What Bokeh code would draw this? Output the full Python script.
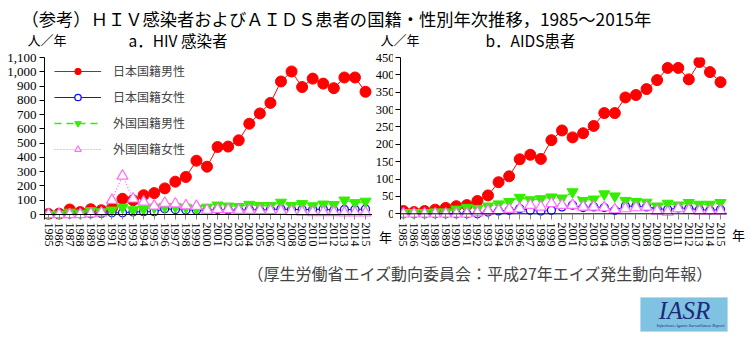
from bokeh.plotting import figure
from bokeh.models import (Range1d, FixedTicker, NumeralTickFormatter, Label, Span,
                          Legend, LegendItem, BoxAnnotation)
from bokeh.layouts import column, row
from bokeh.embed import file_html
from bokeh.resources import INLINE

# ---------------- data ----------------
years = list(range(1985, 2016))

hiv_jp_male = [4, 6, 35, 17, 37, 30, 45, 110, 100, 135, 150, 183, 230, 263, 377, 335,
               473, 476, 520, 636, 708, 782, 932, 1002, 893, 952, 917, 885, 960, 960, 860]
hiv_jp_female = [0, 0, 3, 5, 5, 8, 12, 12, 18, 20, 20, 40, 35, 32, 30, 30,
                 35, 32, 30, 35, 30, 35, 38, 35, 35, 35, 38, 30, 35, 35, 38]
hiv_for_male = [0, 2, 15, 8, 25, 18, 30, 50, 32, 38, 50, 55, 55, 50, 40, 50,
                65, 58, 55, 70, 62, 62, 85, 62, 75, 60, 72, 68, 100, 82, 92]
hiv_for_female = [0, 0, 0, 0, 5, 12, 100, 270, 110, 88, 60, 80, 75, 62, 58, 30,
                  35, 35, 30, 30, 28, 28, 25, 22, 18, 15, 15, 15, 12, 12, 12]

aids_jp_male = [8, 5, 8, 12, 17, 22, 25, 37, 53, 91, 108, 157, 170, 158, 212, 240,
                220, 232, 253, 290, 290, 335, 342, 359, 385, 420, 420, 387, 437, 408, 379]
aids_jp_female = [0, 0, 0, 0, 0, 0, 0, 0, 5, 8, 10, 15, 10, 8, 10, 20,
                  25, 18, 20, 18, 10, 22, 22, 20, 15, 12, 17, 15, 12, 10, 12]
aids_for_male = [3, 3, 3, 5, 5, 13, 18, 15, 22, 28, 35, 47, 40, 43, 48, 45,
                 63, 38, 42, 57, 51, 38, 35, 33, 22, 30, 25, 32, 27, 27, 32]
aids_for_female = [0, 0, 0, 0, 0, 0, 0, 3, 8, 10, 13, 15, 25, 20, 30, 25,
                   25, 20, 20, 18, 12, 15, 18, 20, 8, 5, 15, 10, 8, 8, 8]

series_names = ["日本国籍男性", "日本国籍女性", "外国国籍男性", "外国国籍女性"]
hiv_ticks = list(range(0, 1101, 100))
aids_ticks = list(range(0, 451, 50))

main_title = "（参考）ＨＩＶ感染者およびＡＩＤＳ患者の国籍・性別年次推移，1985～2015年"
sub_a = "a．HIV 感染者"
sub_b = "b．AIDS患者"
unit_label = "人／年"
year_unit = "年"
source_text = "（厚生労働省エイズ動向委員会：平成27年エイズ発生動向年報）"

JP = "Noto Sans CJK JP"
SERIF = "Liberation Serif"

RED = "#ff0000"
BLUE = "#1010ff"
GREEN = "#33ee00"
PINK = "#ff6cff"

TOP_H = 50        # height of the title strip
PANEL_H = 210     # height of the panel row
FRAME_TOP = 57    # page y of frame top
FRAME_BOTTOM = 219

HIV_YR = (-35, 1100)
AIDS_YR = (-16.4, 450)
HIV_XR = (1984.62, 2015.66)
AIDS_XR = (1984.72, 2015.66)


def base_fig(width, xr, yr, bl, br):
    p = figure(width=width, height=PANEL_H, x_range=Range1d(*xr), y_range=Range1d(*yr),
               min_border_left=bl, min_border_right=br,
               min_border_top=FRAME_TOP - TOP_H,
               min_border_bottom=TOP_H + PANEL_H - FRAME_BOTTOM,
               toolbar_location=None, output_backend="svg")
    p.outline_line_color = None
    p.grid.visible = False
    p.background_fill_color = "white"
    p.border_fill_color = "white"
    return p


def style_yaxis(ya, ticks, show_labels=True):
    ya.ticker = FixedTicker(ticks=ticks)
    ya.formatter = NumeralTickFormatter(format="0,0")
    ya.major_label_text_font = SERIF
    ya.major_label_text_font_size = "13px"
    ya.major_label_text_color = "black"
    ya.axis_line_color = "black"
    ya.major_tick_line_color = "black"
    ya.major_tick_in = 0
    ya.major_tick_out = 5
    ya.minor_tick_line_color = None
    ya.major_label_standoff = 3
    if not show_labels:
        ya.major_label_overrides = {t: "" for t in ticks}
        ya.major_label_standoff = 0


def style_unit_axis(xa, label, standoff, orientation="horizontal"):
    xa.ticker = FixedTicker(ticks=[0.5])
    xa.major_label_overrides = {0.5: label}
    xa.major_label_orientation = orientation
    xa.major_label_text_font = JP
    xa.major_label_text_font_size = "13px"
    xa.major_label_text_color = "black"
    xa.axis_line_color = None
    xa.major_tick_line_color = None
    xa.minor_tick_line_color = None
    xa.major_tick_in = 0
    xa.major_tick_out = 0
    xa.major_label_standoff = standoff


def make_panel(width, xr, yr, bl, br, ticks, show_ylabels=True):
    p = base_fig(width, xr, yr, bl, br)
    xa = p.xaxis[0]
    xa.ticker = FixedTicker(ticks=years)
    xa.major_label_orientation = "vertical"
    xa.major_label_text_font = SERIF
    xa.major_label_text_font_size = "12px"
    xa.major_label_text_color = "black"
    xa.axis_line_color = None
    xa.major_tick_in = 5
    xa.major_tick_out = 0
    xa.major_tick_line_color = "#888888"
    xa.minor_tick_line_color = None
    xa.major_label_standoff = 3
    style_yaxis(p.yaxis[0], ticks, show_ylabels)
    p.add_layout(Span(location=0, dimension="width", line_color="black", line_width=1))
    return p


def add_series(p, jm, jf, fm, ff):
    l1 = p.line(years, jm, line_color=RED, line_width=1)
    s1 = p.scatter(years, jm, marker="circle", size=11, fill_color=RED, line_color=RED)
    l2 = p.line(years, jf, line_color=BLUE, line_width=1)
    s2 = p.scatter(years, jf, marker="circle", size=8, fill_color="white", line_color=BLUE, line_width=1.3)
    l3 = p.line(years, fm, line_color=GREEN, line_width=1.3, line_dash="7 5")
    s3 = p.scatter(years, fm, marker="inverted_triangle", size=11, fill_color=GREEN, line_color=GREEN)
    l4 = p.line(years, ff, line_color=PINK, line_width=1.2, line_dash="1 2")
    s4 = p.scatter(years, ff, marker="triangle", size=11, fill_color="white", line_color=PINK, line_width=1.2)
    return [(l1, s1), (l2, s2), (l3, s3), (l4, s4)]


def blank_fig(width, height):
    f = figure(width=width, height=height, x_range=Range1d(0, width), y_range=Range1d(0, height),
               min_border=0, toolbar_location=None, output_backend="svg",
               x_axis_location=None, y_axis_location=None)
    f.outline_line_color = None
    f.grid.visible = False
    return f


# ---------------- title strip (title, subtitles, units) ----------------
tfig = blank_fig(749, TOP_H)


def top_label(px, py, text, size):
    tfig.add_layout(Label(x=px, y=TOP_H - py, text=text, text_font=JP,
                          text_font_size=size, text_baseline="middle", text_color="black"))


top_label(21, 18, main_title, "17.3px")
top_label(27, 39, unit_label, "13px")
top_label(128, 39.5, sub_a, "15.5px")
top_label(380, 39, unit_label, "13px")
top_label(485, 39.5, sub_b, "15.5px")

# ---------------- left panel (HIV) ----------------
left = make_panel(372, HIV_XR, HIV_YR, 44, 0, hiv_ticks)
pairs = add_series(left, hiv_jp_male, hiv_jp_female, hiv_for_male, hiv_for_female)

items = [LegendItem(label=n, renderers=list(pr)) for n, pr in zip(series_names, pairs)]
legend = Legend(items=items, location=(10, 62), orientation="vertical",
                label_text_font=JP, label_text_font_size="12px",
                glyph_width=47, glyph_height=16, label_height=16, spacing=9,
                padding=4, margin=0, label_standoff=12,
                background_fill_alpha=0, border_line_color=None)
left.add_layout(legend)

# ---------------- middle strip: AIDS tick labels + "年" ending the left year axis ----------------
mid = base_fig(21, (0, 1), AIDS_YR, 15, 0)
style_yaxis(mid.yaxis[0], aids_ticks)
mid.yaxis[0].major_label_text_font_size = "12.5px"
mid.yaxis[0].major_tick_out = 0
mid.yaxis[0].major_label_standoff = -4
mid.yaxis[0].axis_line_color = None
# a tiny positive angle makes the label right-aligned at its tick
style_unit_axis(mid.xaxis[0], year_unit, 17, orientation=0.0001)

# ---------------- right panel (AIDS) ----------------
right = make_panel(334, AIDS_XR, AIDS_YR, 7, 0, aids_ticks, show_ylabels=False)
add_series(right, aids_jp_male, aids_jp_female, aids_for_male, aids_for_female)

# ---------------- end strip: "年" ending the right year axis ----------------
yfig = base_fig(22, (0, 1), AIDS_YR, 0, 0)
yfig.yaxis.visible = False
style_unit_axis(yfig.xaxis[0], year_unit, 5)

# ---------------- bottom strip ----------------
BH = 83
bfig = blank_fig(749, BH)
bfig.add_layout(Label(x=247, y=BH - 12, text=source_text, text_font=JP,
                      text_font_size="16px", text_baseline="middle"))
bfig.add_layout(BoxAnnotation(left=640, right=727, top=BH - 37, bottom=BH - 71,
                              fill_color="#80c2e2", fill_alpha=1, line_color="#9fd0ea"))
bfig.add_layout(Label(x=684, y=BH - 50, text="IASR", text_font="Liberation Serif",
                      text_font_style="italic", text_font_size="25px", text_color="#1c2a78",
                      text_align="center", text_baseline="middle"))
bfig.add_layout(Label(x=690, y=BH - 65, text="Infectious Agents Surveillance Report",
                      text_font="Liberation Serif", text_font_style="italic",
                      text_font_size="4.5px", text_color="#1c2a78",
                      text_align="center", text_baseline="middle"))

layout = column(tfig, row(left, mid, right, yfig), bfig)
open("out.html", "w").write(file_html(layout, INLINE))
